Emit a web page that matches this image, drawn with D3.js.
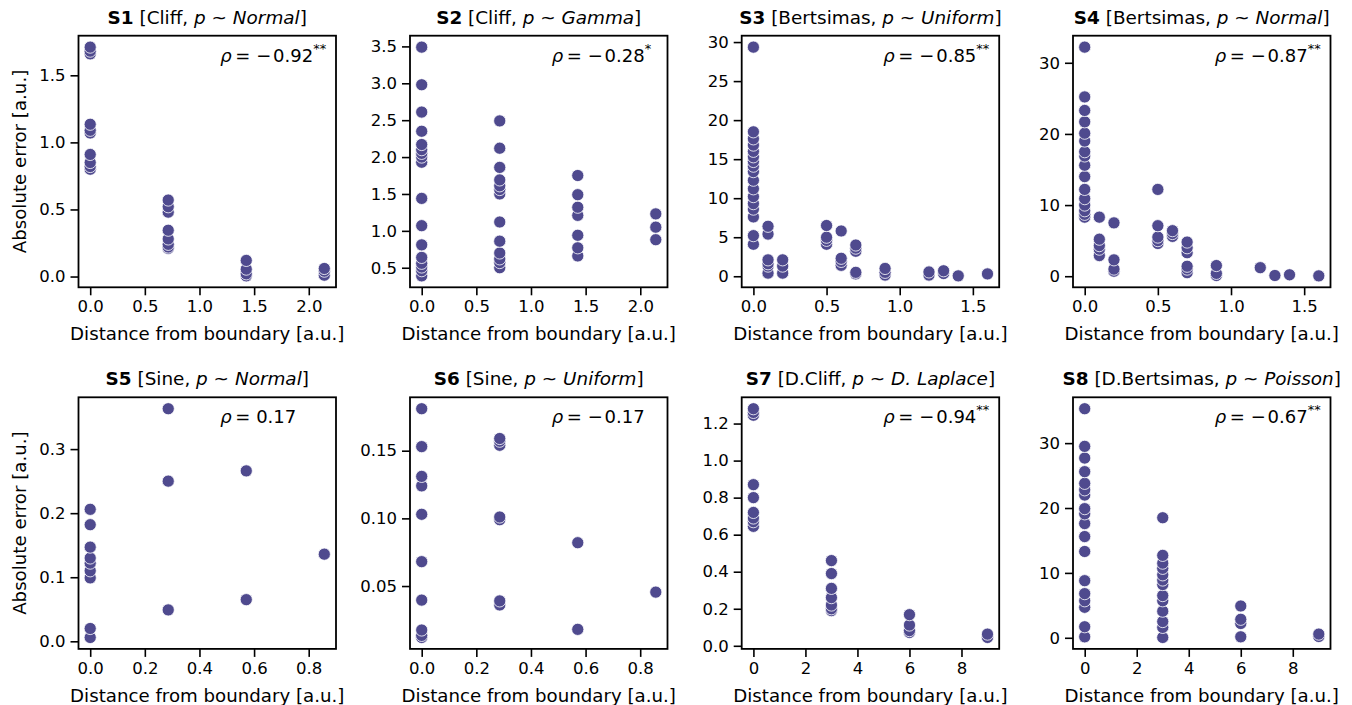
<!DOCTYPE html>
<html><head><meta charset="utf-8">
<script src="https://cdn.jsdelivr.net/npm/d3@7"></script>
<style>
body{margin:0;background:#fff;}
svg{font-family:"DejaVu Sans",sans-serif;}
</style></head>
<body><svg id="c" width="1352" height="705"></svg>
<script>
// ---- data ----
const s1Dist = [0,0,0,0,0,0,0,0,0,0, 0.714,0.714,0.714,0.714,0.714,0.714,0.714,0.714, 1.428,1.428,1.428,1.428, 2.142,2.142,2.142];
const s1Err  = [1.71,1.68,1.66,1.135,1.09,1.07,0.91,0.85,0.82,0.80, 0.57,0.52,0.48,0.345,0.28,0.24,0.22,0.21, 0.12,0.055,0.02,0.005, 0.06,0.04,0.01];

const s2Dist = [0,0,0,0,0,0,0,0,0,0,0,0,0,0,0,0,0, 0.714,0.714,0.714,0.714,0.714,0.714,0.714,0.714,0.714,0.714,0.714,0.714,0.714, 1.428,1.428,1.428,1.428,1.428,1.428,1.428, 2.142,2.142,2.142];
const s2Err  = [3.49,2.98,2.61,2.35,2.17,2.10,2.05,2.00,1.93,1.44,1.07,0.81,0.64,0.56,0.51,0.46,0.39, 2.49,2.12,1.86,1.69,1.61,1.56,1.50,1.12,0.86,0.70,0.62,0.57,0.50, 1.75,1.49,1.32,1.21,0.94,0.77,0.66, 1.23,1.05,0.88];

const s3Dist = [0,0,0,0,0,0,0,0,0,0,0,0,0,0,0,0,0, 0.1,0.1,0.1,0.1,0.1,0.1, 0.2,0.2,0.2, 0.5,0.5,0.5,0.5, 0.6,0.6,0.6,0.6, 0.7,0.7,0.7,0.7,0.7, 0.9,0.9,0.9, 1.2,1.2, 1.3,1.3, 1.4, 1.6];
const s3Err  = [29.35,18.5,17.6,16.8,16.0,15.3,14.7,14.1,13.4,12.3,11.2,10.2,9.3,8.6,7.6,5.2,4.1, 6.4,5.4,2.1,1.6,1.3,0.4, 2.1,1.3,0.4, 6.5,5.0,4.6,4.1, 5.8,2.3,1.9,1.4, 4.0,3.6,3.2,0.5,0.3, 1.0,0.5,0.15, 0.55,0.15, 0.7,0.35, 0.05, 0.3];

const s4Dist = [0,0,0,0,0,0,0,0,0,0,0,0,0,0,0,0, 0.1,0.1,0.1,0.1,0.1, 0.2,0.2,0.2,0.2, 0.5,0.5,0.5,0.5,0.5, 0.6,0.6,0.6, 0.7,0.7,0.7,0.7,0.7,0.7, 0.9,0.9,0.9, 1.2, 1.3, 1.4, 1.6];
const s4Err  = [32.2,25.2,23.3,21.7,20.1,19.0,17.5,16.9,15.6,14.0,12.2,10.9,10.0,9.2,8.7,8.3, 8.3,5.2,4.3,3.8,2.9, 7.5,2.3,1.0,0.7, 12.2,7.1,5.5,5.0,4.6, 6.4,6.0,5.6, 4.8,4.0,3.3,1.4,1.0,0.5, 1.5,0.4,0.1, 1.2, 0.1, 0.2, 0.05];

const s5Dist = [0,0,0,0,0,0,0,0,0, 0.2857,0.2857,0.2857, 0.5714,0.5714, 0.8571];
const s5Err  = [0.206,0.182,0.147,0.130,0.122,0.110,0.099,0.020,0.006, 0.363,0.250,0.049, 0.266,0.065, 0.136];

const s6Dist = [0,0,0,0,0,0,0,0,0,0, 0.2857,0.2857,0.2857,0.2857,0.2857,0.2857,0.2857, 0.5714,0.5714, 0.8571];
const s6Err  = [0.181,0.153,0.131,0.124,0.103,0.068,0.0396,0.0175,0.0135,0.012, 0.159,0.157,0.154,0.101,0.099,0.039,0.036, 0.082,0.018, 0.0455];

const s7Dist = [0,0,0,0,0,0,0,0,0, 3,3,3,3,3,3,3, 6,6,6,6, 9,9];
const s7Err  = [1.28,1.26,1.245,0.87,0.80,0.72,0.69,0.67,0.645, 0.46,0.39,0.31,0.26,0.22,0.20,0.19, 0.168,0.112,0.082,0.072, 0.063,0.045];

const s8Dist = [0,0,0,0,0,0,0,0,0,0,0,0,0,0,0,0,0,0, 3,3,3,3,3,3,3,3,3,3,3,3,3, 6,6,6,6, 9,9];
const s8Err  = [35.3,29.5,27.7,25.6,23.8,22.8,22.0,19.9,19.1,17.6,15.6,13.3,8.8,6.8,5.7,4.7,1.7,0.15, 18.5,12.7,11.5,10.7,9.7,8.9,8.2,6.5,5.7,4.1,2.5,1.6,0.05, 4.9,2.85,2.2,0.15, 0.57,0.2];

const panelIds    = ["S1","S2","S3","S4","S5","S6","S7","S8"];
const panelModels = ["Cliff","Cliff","Bertsimas","Bertsimas","Sine","Sine","D.Cliff","D.Bertsimas"];
const panelDists  = ["Normal","Gamma","Uniform","Normal","Normal","Uniform","D. Laplace","Poisson"];
const panelRho    = ["−0.92","−0.28","−0.85","−0.87","0.17","−0.17","−0.94","−0.67"];
const panelStars  = ["**","*","**","**","","","**","**"];
const xTickVals = [[0,0.5,1,1.5,2],[0,0.5,1,1.5,2],[0,0.5,1,1.5],[0,0.5,1,1.5],[0,0.2,0.4,0.6,0.8],[0,0.2,0.4,0.6,0.8],[0,2,4,6,8],[0,2,4,6,8]];
const yTickVals = [[0,0.5,1,1.5],[0.5,1,1.5,2,2.5,3,3.5],[0,5,10,15,20,25,30],[0,10,20,30],[0,0.1,0.2,0.3],[0.05,0.1,0.15],[0,0.2,0.4,0.6,0.8,1,1.2],[0,10,20,30]];
const xFormats = [".1f",".1f",".1f",".1f",".1f",".1f","d","d"];
const yFormats = [".1f",".1f","d","d",".1f",".2f",".1f","d"];
const xLabel = "Distance from boundary [a.u.]";
const yLabel = "Absolute error [a.u.]";

const dists = [s1Dist,s2Dist,s3Dist,s4Dist,s5Dist,s6Dist,s7Dist,s8Dist];
const errs  = [s1Err,s2Err,s3Err,s4Err,s5Err,s6Err,s7Err,s8Err];

// ---- layout ----
const svg = d3.select("#c");
const colLeft = [78.5, 410, 741.7, 1073];
const rowTop = [35.7, 397.3];
const pw = 257.5, ph = 251.6;
const color = "#4f4a8e";

function padded(ext){ const r = ext[1]-ext[0]; return [ext[0]-0.05*r, ext[1]+0.05*r]; }

for (let i=0;i<8;i++){
  const col = i%4, row = Math.floor(i/4);
  const x0 = colLeft[col], y0 = rowTop[row];
  const g = svg.append("g").attr("transform",`translate(${x0},${y0})`);
  const data = dists[i].map((d,k)=>({x:d,y:errs[i][k]})).sort((a,b)=>a.y-b.y);
  const xs = d3.scaleLinear().domain(padded(d3.extent(dists[i]))).range([0,pw]);
  const ys = d3.scaleLinear().domain(padded(d3.extent(errs[i]))).range([ph,0]);

  const xa = g.append("g").attr("transform",`translate(0,${ph})`)
    .call(d3.axisBottom(xs).tickValues(xTickVals[i]).tickFormat(d3.format(xFormats[i])).tickSize(8).tickPadding(5));
  const ya = g.append("g")
    .call(d3.axisLeft(ys).tickValues(yTickVals[i]).tickFormat(d3.format(yFormats[i])).tickSize(8).tickPadding(5));
  [xa,ya].forEach(a=>{
    a.select(".domain").remove();
    a.selectAll(".tick line").attr("stroke","#000").attr("stroke-width",1.6);
    a.selectAll(".tick text").attr("fill","#000").style("font-size","16.5px").style("font-family","DejaVu Sans");
  });

  g.append("g").selectAll("circle").data(data).join("circle")
    .attr("cx",d=>xs(d.x)).attr("cy",d=>ys(d.y)).attr("r",6.1)
    .attr("fill",color).attr("stroke","#fff").attr("stroke-width",0.8);

  g.append("rect").attr("width",pw).attr("height",ph).attr("fill","none")
    .attr("stroke","#000").attr("stroke-width",1.8);

  // title
  const t = g.append("text").attr("x",pw/2).attr("y",-12).attr("text-anchor","middle")
    .style("font-size","18.4px").attr("fill","#000");
  t.append("tspan").attr("font-weight","bold").text(panelIds[i]);
  t.append("tspan").text(" [" + panelModels[i] + ", ");
  t.append("tspan").attr("font-style","italic").text("p");
  t.append("tspan").text(" ~ ");
  t.append("tspan").attr("font-style","italic").text(panelDists[i]);
  t.append("tspan").text("]");

  // correlation
  const r = g.append("text").attr("x",pw*0.55).attr("y",ph*0.1+1).style("font-size","18px").attr("fill","#000")
    .attr("xml:space","preserve");
  r.append("tspan").attr("font-style","italic").text("ρ");
  const neg = panelRho[i].startsWith("−");
  r.append("tspan").text("\u2009=\u2004" + (neg ? "−\u200a" + panelRho[i].slice(1) : panelRho[i]));
  if (panelStars[i]) r.append("tspan").attr("dy",-9).style("font-size","13px").text(panelStars[i]);

  // axis labels
  g.append("text").attr("x",pw/2).attr("y",ph+53).attr("text-anchor","middle")
    .style("font-size","18.2px").attr("fill","#000").text(xLabel);
  if (col===0){
    g.append("text").attr("transform",`translate(${-53},${ph/2}) rotate(-90)`).attr("text-anchor","middle")
      .style("font-size","18.2px").attr("fill","#000").text(yLabel);
  }
}
</script></body></html>
